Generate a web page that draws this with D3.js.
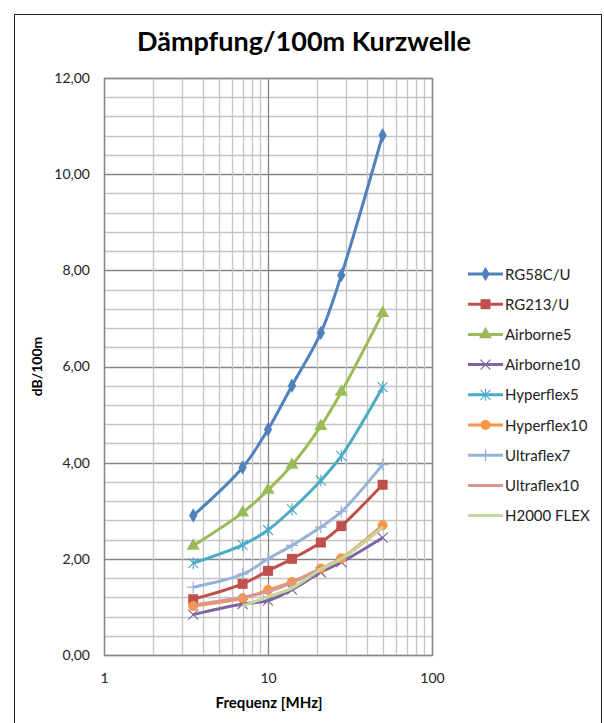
<!DOCTYPE html>
<html>
<head lang="de">
    <meta charset="UTF-8">
    <title>Dämpfung/100m Kurzwelle</title>
    <script src="https://cdn.jsdelivr.net/npm/d3@7/dist/d3.min.js" charset="UTF-8"></script>
    <style>
        body{margin:0;background:#fff;}
        text{font-family:Lato,"Open Sans",sans-serif;}
    </style>
</head>
<body>
<script>
    // Frequenzen (MHz) der Kurzwellenbänder
    var frequenzen=[3.5,7,10,14,21,28,50];
    var kabel=["RG58C/U","RG213/U","Airborne5","Airborne10","Hyperflex5","Hyperflex10","Ultraflex7","Ultraflex10","H2000 FLEX"];
    var rg58=[2.9,3.9,4.69,5.6,6.7,7.9,10.81];
    var rg213=[1.16,1.48,1.75,2.0,2.34,2.68,3.54];
    var airborne5=[2.27,2.96,3.43,3.95,4.76,5.47,7.11];
    var airborne10=[0.84,1.06,1.13,1.36,1.72,1.93,2.44];
    var hyperflex5=[1.91,2.29,2.6,3.03,3.63,4.14,5.57];
    var hyperflex10=[1.02,1.18,1.35,1.52,1.8,2.01,2.7];
    var ultraflex7=[1.41,1.68,2.0,2.28,2.66,2.98,3.96];
    var ultraflex10=[1.04,1.2,1.32,1.5,1.8,2.0,2.66];
    var h2000flex=[null,1.02,1.21,1.39,1.78,2.0,2.66];
    var xTicks=[1,10,100];
    var yTicks=[0,2,4,6,8,10,12];

    var werte=[rg58,rg213,airborne5,airborne10,hyperflex5,hyperflex10,ultraflex7,ultraflex10,h2000flex];
    var farben=["#4F81BD","#C0504D","#9BBB59","#8064A2","#4BACC6","#F79646","#95B3D7","#D99694","#C3D69B"];
    var marker=["diamond","square","triangle","x","star","circle","plus",null,null];

    var W=604,H=723;
    var pLeft=104,pRight=432,pTop=78,pBottom=655;

    var svg=d3.select("body").append("svg")
            .attr("width",W).attr("height",H);

    svg.append("rect")
            .attr("x",14.5).attr("y",14.5)
            .attr("width",587).attr("height",740)
            .attr("fill","#fff").attr("stroke","#222");

    var x=d3.scaleLog().domain([1,100]).range([pLeft,pRight]);
    var y=d3.scaleLinear().domain([0,12]).range([pBottom,pTop]);

    // Gitter
    var g=svg.append("g");
    var yMinor=d3.range(0,12.01,0.4);
    g.selectAll("line.hy").data(yMinor).enter().append("line")
            .attr("x1",pLeft).attr("x2",pRight)
            .attr("y1",function(d){return Math.round(y(d))+0.5;})
            .attr("y2",function(d){return Math.round(y(d))+0.5;})
            .attr("stroke",function(d){return Math.abs(d/2-Math.round(d/2))<1e-6?"#868686":"#c4c4c4";})
            .attr("stroke-width",1.3);
    var xMinor=x.ticks();
    g.selectAll("line.vx").data(xMinor).enter().append("line")
            .attr("y1",pTop).attr("y2",pBottom)
            .attr("x1",function(d){return Math.round(x(d))+0.5;})
            .attr("x2",function(d){return Math.round(x(d))+0.5;})
            .attr("stroke",function(d){return xTicks.indexOf(d)>=0?"#868686":"#c4c4c4";})
            .attr("stroke-width",1.3);
    g.append("rect")
            .attr("x",pLeft+0.5).attr("y",pTop+0.5)
            .attr("width",pRight-pLeft).attr("height",pBottom-pTop)
            .attr("fill","none").attr("stroke","#868686").attr("stroke-width",1.3);

    // Achsen
    var yAxis=d3.axisLeft(y).tickValues(yTicks).tickSize(0).tickPadding(14)
            .tickFormat(function(d){return d3.format(".2f")(d).replace(".",",");});
    var ya=svg.append("g").attr("transform","translate("+pLeft+",0)").call(yAxis);
    var xAxis=d3.axisBottom(x).tickValues(xTicks).tickSize(0).tickPadding(18)
            .tickFormat(d3.format("d"));
    var xa=svg.append("g").attr("transform","translate(0,"+pBottom+")").call(xAxis);
    [ya,xa].forEach(function(a){
        a.select(".domain").remove();
        a.selectAll("text").style("font-size","14px").style("fill","#222")
                .style("font-family","Lato, sans-serif");
    });

    svg.append("text").attr("x",304).attr("y",51)
            .attr("text-anchor","middle")
            .style("font-size","27px").style("font-weight","bold")
            .text("Dämpfung/100m Kurzwelle");
    svg.append("text").attr("x",269).attr("y",708)
            .attr("text-anchor","middle")
            .style("font-size","15px").style("font-weight","bold")
            .text("Frequenz [MHz]");
    svg.append("text")
            .attr("transform","translate(42,"+((pTop+pBottom)/2)+") rotate(-90)")
            .attr("text-anchor","middle")
            .style("font-size","14px").style("font-weight","bold")
            .text("dB/100m");

    function zeichneMarker(sel,typ,farbe){
        if(typ==="diamond"){
            sel.append("path").attr("d",d3.symbol(d3.symbolDiamond,60)())
                    .attr("fill",farbe);
        }else if(typ==="square"){
            sel.append("rect").attr("x",-5).attr("y",-5).attr("width",10).attr("height",10)
                    .attr("fill",farbe);
        }else if(typ==="triangle"){
            sel.append("path").attr("d",d3.symbol(d3.symbolTriangle,75)())
                    .attr("fill",farbe);
        }else if(typ==="circle"){
            sel.append("circle").attr("r",5).attr("fill",farbe);
        }else if(typ==="x"){
            sel.append("path").attr("d","M-5,-5L5,5M-5,5L5,-5")
                    .attr("stroke",farbe).attr("stroke-width",1.2).attr("fill","none");
        }else if(typ==="star"){
            sel.append("path").attr("d","M-5,-5L5,5M-5,5L5,-5M0,-6L0,6")
                    .attr("stroke",farbe).attr("stroke-width",1.2).attr("fill","none");
        }else if(typ==="plus"){
            sel.append("path").attr("d","M0,-6L0,6M-6,0L6,0")
                    .attr("stroke",farbe).attr("stroke-width",1.2).attr("fill","none");
        }
    }

    var linie=d3.line()
            .defined(function(d){return d[1]!==null;})
            .x(function(d){return x(d[0]);})
            .y(function(d){return y(d[1]);})
            .curve(d3.curveCatmullRom.alpha(0.5));

    var reihen=svg.append("g");
    werte.forEach(function(w,i){
        var pts=frequenzen.map(function(f,j){return [f,w[j]];});
        reihen.append("path").datum(pts)
                .attr("d",linie)
                .attr("fill","none")
                .attr("stroke",farben[i])
                .attr("stroke-width",3)
                .attr("stroke-linejoin","round");
        if(marker[i]){
            pts.filter(function(d){return d[1]!==null;}).forEach(function(d){
                var m=reihen.append("g").attr("transform","translate("+x(d[0])+","+y(d[1])+")");
                zeichneMarker(m,marker[i],farben[i]);
            });
        }
    });

    // Legende
    var leg=svg.append("g");
    kabel.forEach(function(k,i){
        var ly=274+i*30.2;
        var r=leg.append("g").attr("transform","translate(0,"+ly+")");
        r.append("line").attr("x1",468).attr("x2",503).attr("y1",0).attr("y2",0)
                .attr("stroke",farben[i]).attr("stroke-width",3);
        if(marker[i]){
            var m=r.append("g").attr("transform","translate(485.5,0)");
            zeichneMarker(m,marker[i],farben[i]);
        }
        r.append("text").attr("x",505).attr("y",5.5)
                .style("font-size","15px").style("fill","#222")
                .text(k);
    });
</script>
</body>
</html>
